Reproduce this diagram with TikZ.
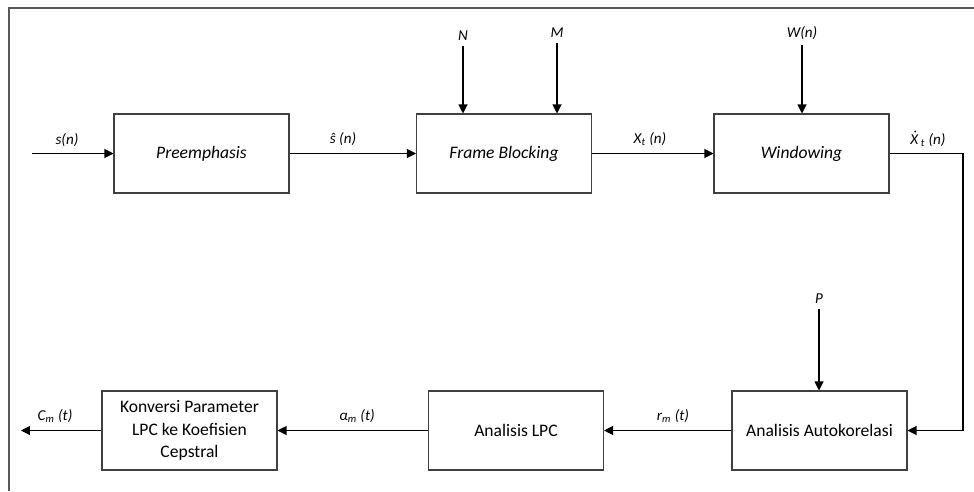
\documentclass[tikz,border=0pt]{standalone}
\usepackage{fontspec}
\setmainfont{Carlito}
\usetikzlibrary{arrows.meta,positioning}

\begin{document}
\begin{tikzpicture}[x=0.02cm,y=-0.02cm,
box/.style={draw=black!75,line width=0.6pt,minimum width=3.5cm,minimum height=1.58cm,
align=center,font=\fontsize{10}{13}\selectfont,inner sep=2pt},
itbox/.style={box,font=\fontsize{10}{13}\selectfont\itshape},
sig/.style={font=\fontsize{8.6}{10}\selectfont\itshape,inner sep=3pt},
flow/.style={-{Triangle[length=1.8mm,width=1.8mm]},line width=0.6pt}]
\useasboundingbox (0,0) rectangle (974,491);
\draw[black!65,line width=1pt] (9,491)--(9,8)--(974,8);
% top row
\node[itbox] (pre) at (201.5,153.5) {Preemphasis};
\node[itbox] (frame) at (504,153.5) {Frame Blocking};
\node[itbox] (win) at (801.5,153.5) {Windowing};
% bottom row
\node[box] (auto) at (819.5,430.5) {Analisis Autokorelasi};
\node[box] (lpc) at (516,430.5) {Analisis LPC};
\node[box] (konv) at (189.5,430.5) {Konversi Parameter\\LPC ke Koefisien\\Cepstral};
% parameters
\node[sig] (pN) at (463,36) {N};
\node[sig] (pM) at (557,33) {M};
\node[sig] (pW) at (802,33) {W(n)};
\node[sig] (pP) at (819,299) {P};
% signal labels
\node[sig] (lsn) at (67,140) {s(n)};
\node[sig] (lsh) at (343,139) {ŝ (n)};
\node[sig] (lxt) at (650,139) {X\textsubscript{t} (n)};
\node[sig] (lxd) at (928,139) {\accent"02D9 X\,\textsubscript{t} (n)};
\node[sig] (lrm) at (673,416) {r\textsubscript{m} (t)};
\node[sig] (lam) at (357,416) {α\textsubscript{m} (t)};
\node[sig] (lcm) at (55,416) {C\textsubscript{m} (t)};
\coordinate (in) at (32,153.5);
\coordinate (turn) at (963,153.5);
\coordinate (out) at (21,430.5);
\draw[flow] (in)--(in -| pre.west);
\draw[flow] (pre)--(frame);
\draw[flow] (frame)--(win);
\draw[flow] (win.east)--(turn) |- (auto.east);
\draw[flow] (auto)--(lpc);
\draw[flow] (lpc)--(konv);
\draw[flow] (konv.west)--(out);
\draw[flow] (pN)--(pN |- frame.north);
\draw[flow] (pM)--(pM |- frame.north);
\draw[flow] (pW)--(pW |- win.north);
\draw[flow] (pP)--(pP |- auto.north);
\end{tikzpicture}
\end{document}
